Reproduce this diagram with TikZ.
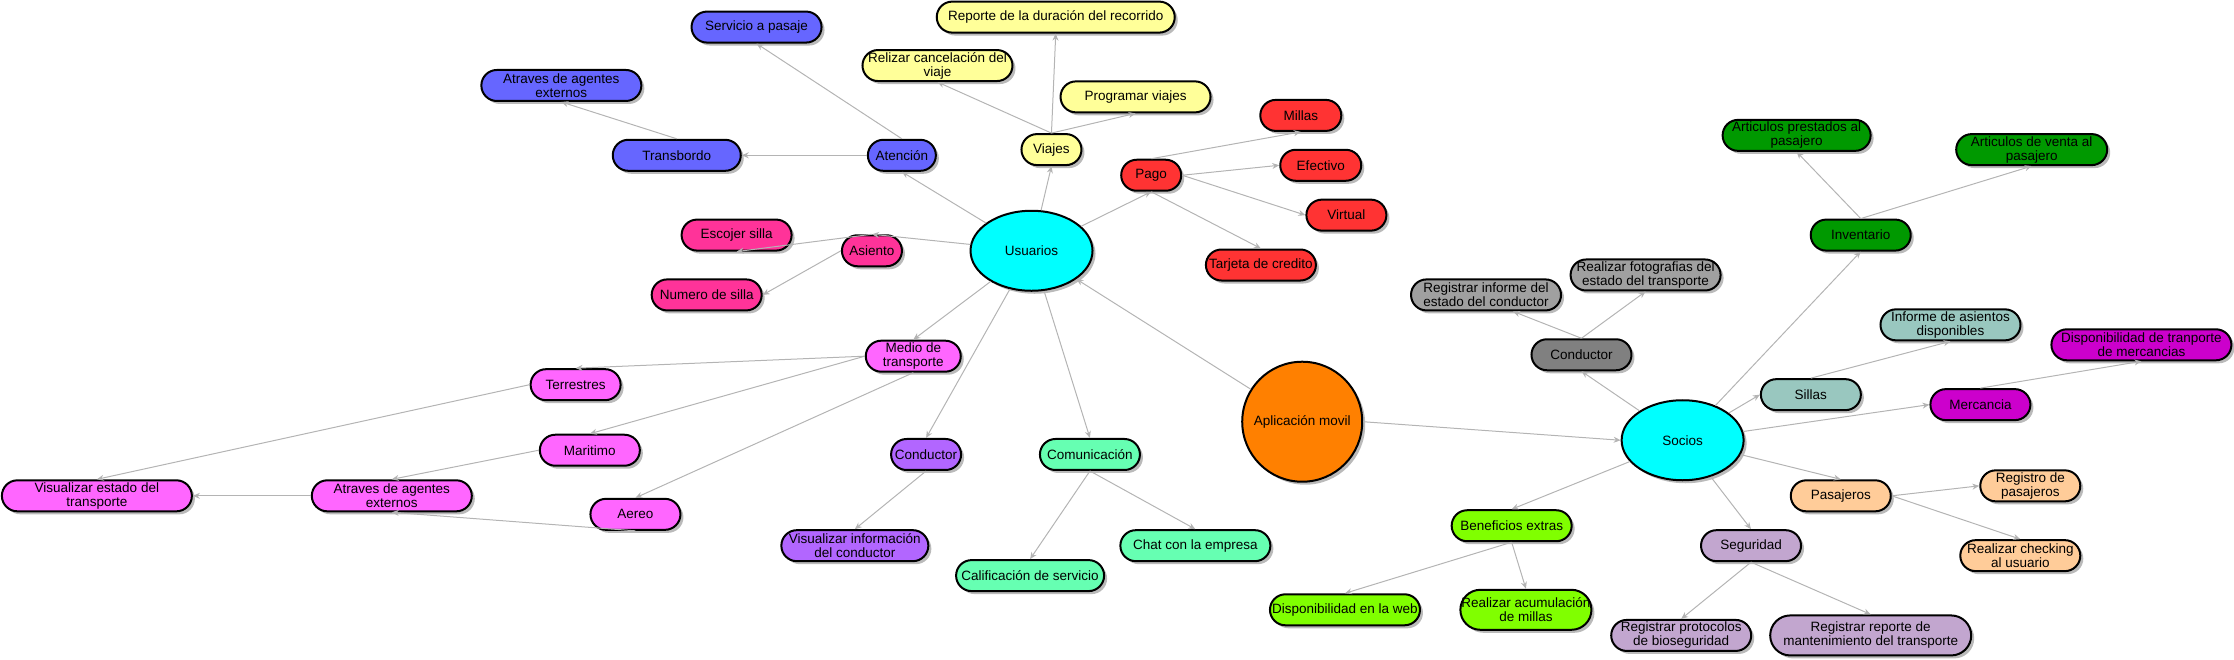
\documentclass[tikz,border=0pt]{standalone}
\usepackage{fontspec}
\setmainfont{Liberation Sans}
\usetikzlibrary{shapes.misc,shapes.geometric,shadows,arrows.meta}
\definecolor{cYel}{HTML}{FFFF99}
\definecolor{cBlue}{HTML}{6666FF}
\definecolor{cRed}{HTML}{FF3333}
\definecolor{cPink}{HTML}{FF3399}
\definecolor{cMag}{HTML}{FF66FF}
\definecolor{cPur}{HTML}{B266FF}
\definecolor{cTeal}{HTML}{66FFB2}
\definecolor{cCyan}{HTML}{00FFFF}
\definecolor{cOrange}{HTML}{FF8000}
\definecolor{cGray}{HTML}{808080}
\definecolor{cLGray}{HTML}{A0A0A0}
\definecolor{cGreen}{HTML}{009900}
\definecolor{cSilla}{HTML}{99C7BF}
\definecolor{cMerc}{HTML}{CC00CC}
\definecolor{cPas}{HTML}{FFCC99}
\definecolor{cSeg}{HTML}{C2A6CF}
\definecolor{cBen}{HTML}{80FF00}
\definecolor{cLine}{HTML}{B4B4B4}
\begin{document}
\begin{tikzpicture}[x=1.4247pt,y={(0pt,-1.4247pt)},
  shd/.style={drop shadow={shadow xshift=3pt,shadow yshift=-3pt,fill=black!45,opacity=0.6}},
  nd/.style={draw=black,line width=2pt,rectangle,rounded corners=15.5pt,minimum height=31pt,
    inner xsep=1pt,inner ysep=1pt,align=center,font=\fontsize{13.5}{14}\selectfont,shd},
  tall/.style={minimum height=40pt,rounded corners=20pt},
  big/.style={draw=black,line width=2pt,ellipse,font=\fontsize{13.5}{14}\selectfont,shd},
  con/.style={draw=cLine,line width=1pt,-{Stealth[length=7pt,width=6pt]}}
]
\useasboundingbox (0,0) rectangle (1568,463);
% centres
\node[big,fill=cCyan,minimum width=122pt,minimum height=80pt] (usuarios) at (724,176) {Usuarios};
\node[big,circle,fill=cOrange,minimum size=120pt] (app) at (914,296) {Aplicación movil};
\node[big,fill=cCyan,minimum width=122pt,minimum height=80pt] (socios) at (1181,309) {Socios};
% Usuarios branches
\node[nd,fill=cYel,minimum width=60pt] (viajes) at (738,105) {Viajes};
\node[nd,fill=cYel,minimum width=238pt] (reporte) at (741,12) {Reporte de la duración del recorrido};
\node[nd,fill=cYel,minimum width=150pt] (cancel) at (658,46) {Relizar cancelación del\\viaje};
\node[nd,fill=cYel,minimum width=150pt] (programar) at (797,68) {Programar viajes};
\node[nd,fill=cBlue,minimum width=68pt] (atencion) at (633,109) {Atención};
\node[nd,fill=cBlue,minimum width=130pt] (servicio) at (531,19) {Servicio a pasaje};
\node[nd,fill=cBlue,minimum width=128pt] (transbordo) at (475,109) {Transbordo};
\node[nd,fill=cBlue,minimum width=160pt] (atraves1) at (394,60) {Atraves de agentes\\externos};
\node[nd,fill=cRed,minimum width=60pt] (pago) at (808,123) {Pago};
\node[nd,fill=cRed,minimum width=81pt] (millas) at (913,81) {Millas};
\node[nd,fill=cRed,minimum width=81pt] (efectivo) at (927,116) {Efectivo};
\node[nd,fill=cRed,minimum width=80pt] (virtual) at (945,151) {Virtual};
\node[nd,fill=cRed,minimum width=110pt] (tarjeta) at (885,186) {Tarjeta de credito};
\node[nd,fill=cPink,minimum width=60pt] (asiento) at (612,176) {Asiento};
\node[nd,fill=cPink,minimum width=110pt] (escojer) at (517,165) {Escojer silla};
\node[nd,fill=cPink,minimum width=110pt] (numero) at (496,207) {Numero de silla};
\node[nd,fill=cMag,minimum width=95pt] (medio) at (641,250) {Medio de\\transporte};
\node[nd,fill=cMag,minimum width=90pt] (terrestres) at (404,270) {Terrestres};
\node[nd,fill=cMag,minimum width=100pt] (maritimo) at (414,316) {Maritimo};
\node[nd,fill=cMag,minimum width=90pt] (aereo) at (446,361) {Aereo};
\node[nd,fill=cMag,minimum width=160pt] (atraves2) at (275,348) {Atraves de agentes\\externos};
\node[nd,fill=cMag,minimum width=190pt] (visestado) at (68,348) {Visualizar estado del\\transporte};
\node[nd,fill=cPur,minimum width=70pt] (condU) at (650,319) {Conductor};
\node[nd,fill=cPur,minimum width=147pt] (visinfo) at (600,383) {Visualizar información\\del conductor};
\node[nd,fill=cTeal,minimum width=100pt] (comun) at (765,319) {Comunicación};
\node[nd,fill=cTeal,minimum width=148pt] (calif) at (723,404) {Calificación de servicio};
\node[nd,fill=cTeal,minimum width=150pt] (chat) at (839,383) {Chat con la empresa};
% Socios branches
\node[nd,fill=cGray,minimum width=100pt] (condS) at (1110,249) {Conductor};
\node[nd,fill=cLGray,minimum width=150pt] (reginf) at (1043,207) {Registrar informe del\\estado del conductor};
\node[nd,fill=cLGray,minimum width=150pt] (fotos) at (1155,193) {Realizar fotografias del\\estado del transporte};
\node[nd,fill=cGreen,minimum width=100pt] (invent) at (1306,165) {Inventario};
\node[nd,fill=cGreen,minimum width=148pt] (artp) at (1261,95) {Articulos prestados al\\pasajero};
\node[nd,fill=cGreen,minimum width=151pt] (artv) at (1426,105) {Articulos de venta al\\pasajero};
\node[nd,fill=cSilla,minimum width=100pt] (sillas) at (1271,277) {Sillas};
\node[nd,fill=cSilla,minimum width=140pt] (informe) at (1369,228) {Informe de asientos\\disponibles};
\node[nd,fill=cMerc,minimum width=100pt] (merc) at (1390,284) {Mercancia};
\node[nd,fill=cMerc,minimum width=180pt] (dispm) at (1503,242) {Disponibilidad de tranporte\\de mercancias};
\node[nd,fill=cPas,minimum width=100pt] (pasaj) at (1292,348) {Pasajeros};
\node[nd,fill=cPas,minimum width=100pt] (registro) at (1425,341) {Registro de\\pasajeros};
\node[nd,fill=cPas,minimum width=120pt] (checking) at (1418,390) {Realizar checking\\al usuario};
\node[nd,fill=cSeg,minimum width=100pt] (segur) at (1229,383) {Seguridad};
\node[nd,fill=cSeg,minimum width=140pt] (protoc) at (1180,446) {Registrar protocolos\\de bioseguridad};
\node[nd,fill=cSeg,tall,minimum width=201pt] (mant) at (1313,446) {Registrar reporte de\\mantenimiento del transporte};
\node[nd,fill=cBen,minimum width=120pt] (benef) at (1061,369) {Beneficios extras};
\node[nd,fill=cBen,minimum width=150pt] (web) at (944,428) {Disponibilidad en la web};
\node[nd,fill=cBen,tall,minimum width=130pt] (acum) at (1071,428) {Realizar acumulación\\de millas};
% connectors: Usuarios
\draw[con] (usuarios) -- (viajes.south);
\draw[con] (viajes.north) -- (reporte.south);
\draw[con] (viajes.north) -- (cancel.south);
\draw[con] (viajes.north) -- (programar.south);
\draw[con] (usuarios) -- (atencion.south);
\draw[con] (atencion.north) -- (servicio.south);
\draw[con] (atencion.west) -- (transbordo.east);
\draw[con] (transbordo.north) -- (atraves1.south);
\draw[con] (usuarios) -- (pago.south);
\draw[con] (pago.north) -- (millas.south);
\draw[con] (pago.east) -- (efectivo.west);
\draw[con] (pago.east) -- (virtual.west);
\draw[con] (pago.south) -- (tarjeta.north);
\draw[con] (usuarios) -- (asiento.north);
\draw[con] (asiento.north) -- (escojer.south);
\draw[con] (asiento.west) -- (numero.east);
\draw[con] (usuarios) -- (medio.north);
\draw[con] (medio.west) -- (terrestres.north);
\draw[con] (medio.west) -- (maritimo.north);
\draw[con] (medio.south) -- (aereo.north);
\draw[con] (terrestres.west) -- (visestado.north);
\draw[con] (maritimo.west) -- (atraves2.north);
\draw[con] (aereo.south) -- (atraves2.south);
\draw[con] (atraves2.west) -- (visestado.east);
\draw[con] (usuarios) -- (condU.north);
\draw[con] (condU.south) -- (visinfo.north);
\draw[con] (usuarios) -- (comun.north);
\draw[con] (comun.south) -- (calif.north);
\draw[con] (comun.south) -- (chat.north);
\draw[con] (app) -- (usuarios);
\draw[con] (app.east) -- (socios.west);
% connectors: Socios
\draw[con] (socios) -- (condS.south);
\draw[con] (condS.north) -- ([xshift=27pt]reginf.south);
\draw[con] (condS.north) -- (fotos.south);
\draw[con] (socios) -- (invent.south);
\draw[con] (invent.north) -- (artp.south);
\draw[con] (invent.north) -- (artv.south);
\draw[con] (socios) -- (sillas.west);
\draw[con] (sillas.north) -- (informe.south);
\draw[con] (socios) -- (merc.west);
\draw[con] (merc.north) -- (dispm.south);
\draw[con] (socios) -- (pasaj.north);
\draw[con] (pasaj.east) -- (registro.west);
\draw[con] (pasaj.east) -- (checking.north);
\draw[con] (socios) -- (segur.north);
\draw[con] (segur.south) -- (protoc.north);
\draw[con] (segur.south) -- (mant.north);
\draw[con] (socios) -- (benef.north);
\draw[con] (benef.south) -- (web.north);
\draw[con] (benef.south) -- (acum.north);
\end{tikzpicture}
\end{document}
